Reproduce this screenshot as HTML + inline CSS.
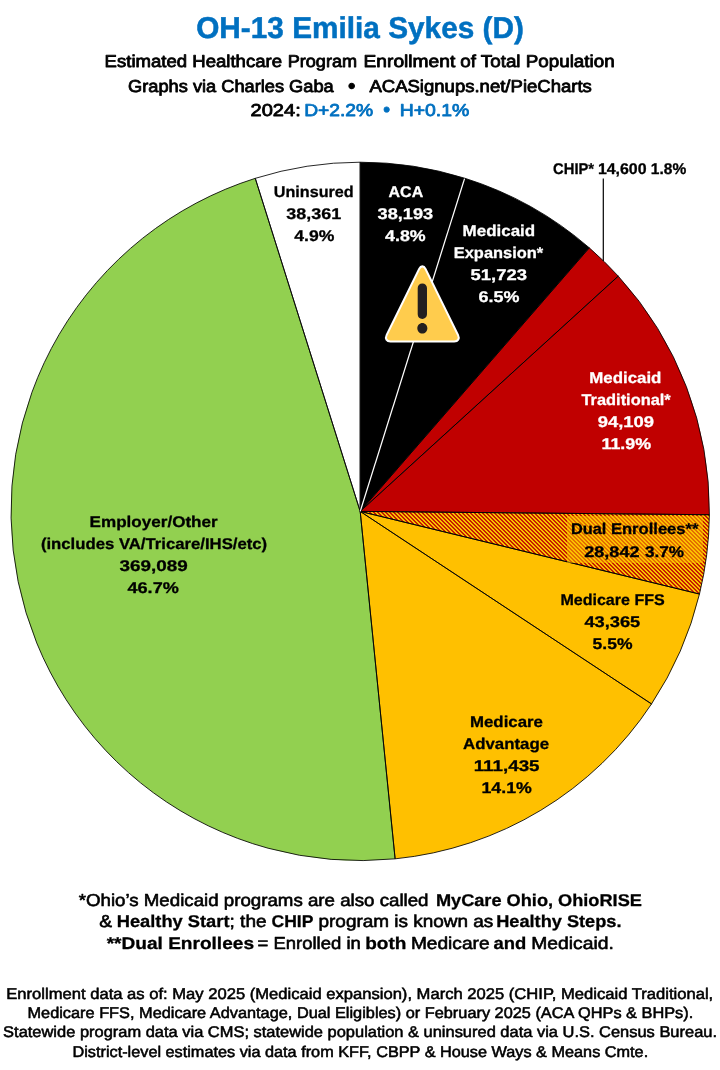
<!DOCTYPE html>
<html lang="en">
<head>
<meta charset="utf-8">
<title>OH-13 Emilia Sykes (D) - Healthcare Program Enrollment</title>
<style>
html,body{margin:0;padding:0;background:#fff;}
body{width:720px;height:1070px;overflow:hidden;}
svg{display:block;will-change:transform;font-family:'Liberation Sans', Arial, Helvetica, sans-serif;}
text{white-space:pre;text-rendering:geometricPrecision;}
</style>
</head>
<body>
<svg width="720" height="1070" viewBox="0 0 720 1070">
<rect x="0" y="0" width="720" height="1070" fill="#FFFFFF"/>

<g id="header">
<text x="196.2" y="37.8" font-size="30" font-weight="bold" fill="#0070C0" stroke="#0070C0" stroke-width="0.5" stroke-linejoin="round" textLength="327.7" lengthAdjust="spacingAndGlyphs">OH-13 Emilia Sykes (D)</text>
<text x="104.6" y="67.0" font-size="17.2" font-weight="normal" fill="#000" stroke="#000" stroke-width="0.8" stroke-linejoin="round" textLength="177.4" lengthAdjust="spacingAndGlyphs">Estimated Healthcare</text>
<text x="287.7" y="67.0" font-size="17.2" font-weight="normal" fill="#000" stroke="#000" stroke-width="0.8" stroke-linejoin="round" textLength="69.4" lengthAdjust="spacingAndGlyphs">Program</text>
<text x="363.5" y="67.0" font-size="17.2" font-weight="normal" fill="#000" stroke="#000" stroke-width="0.8" stroke-linejoin="round" textLength="91.8" lengthAdjust="spacingAndGlyphs">Enrollment</text>
<text x="460.3" y="67.0" font-size="17.2" font-weight="normal" fill="#000" stroke="#000" stroke-width="0.8" stroke-linejoin="round" textLength="154.3" lengthAdjust="spacingAndGlyphs">of Total Population</text>
<text x="128.1" y="91.7" font-size="17.2" font-weight="normal" fill="#000" stroke="#000" stroke-width="0.8" stroke-linejoin="round" textLength="205.6" lengthAdjust="spacingAndGlyphs">Graphs via Charles Gaba</text>
<text x="351.7" y="93.2" font-size="21" font-weight="normal" fill="#000" stroke="#000" stroke-width="0.9" stroke-linejoin="round" text-anchor="middle">•</text>
<text x="369.4" y="91.7" font-size="17.2" font-weight="normal" fill="#000" stroke="#000" stroke-width="0.8" stroke-linejoin="round" textLength="222.5" lengthAdjust="spacingAndGlyphs">ACASignups.net/PieCharts</text>
<text x="250.6" y="115.8" font-size="17.2" font-weight="normal" fill="#000" stroke="#000" stroke-width="0.8" stroke-linejoin="round" textLength="50.1" lengthAdjust="spacingAndGlyphs">2024:</text>
<text x="304.2" y="115.8" font-size="17.2" font-weight="normal" fill="#0070C0" stroke="#0070C0" stroke-width="0.8" stroke-linejoin="round" textLength="69.0" lengthAdjust="spacingAndGlyphs">D+2.2%</text>
<text x="386.7" y="116.2" font-size="19.5" font-weight="normal" fill="#0070C0" stroke="#0070C0" stroke-width="0.8" stroke-linejoin="round" text-anchor="middle">•</text>
<text x="399.7" y="115.8" font-size="17.2" font-weight="normal" fill="#0070C0" stroke="#0070C0" stroke-width="0.8" stroke-linejoin="round" textLength="69.6" lengthAdjust="spacingAndGlyphs">H+0.1%</text>
</g>
<g id="pie-fills">
<path d="M360.20 511.40L360.20 162.20A349.20 349.20 0 0 1 464.69 178.20Z" fill="#000000"/>
<path d="M360.20 511.40L464.69 178.20A349.20 349.20 0 0 1 589.25 247.81Z" fill="#000000"/>
<path d="M360.20 511.40L589.25 247.81A349.20 349.20 0 0 1 618.25 276.13Z" fill="#C00000"/>
<path d="M360.20 511.40L618.25 276.13A349.20 349.20 0 0 1 709.38 514.72Z" fill="#C00000"/>
<path d="M360.20 511.40L709.38 514.72A349.20 349.20 0 0 1 699.48 594.06Z" fill="#FFDC00"/>
<path d="M360.20 511.40L699.48 594.06A349.20 349.20 0 0 1 651.52 703.94Z" fill="#FFC000"/>
<path d="M360.20 511.40L651.52 703.94A349.20 349.20 0 0 1 395.12 858.85Z" fill="#FFC000"/>
<path d="M360.20 511.40L395.12 858.85A349.20 349.20 0 0 1 255.27 178.34Z" fill="#92D050"/>
<path d="M360.20 511.40L255.27 178.34A349.20 349.20 0 0 1 360.20 162.20Z" fill="#FFFFFF"/>
</g>
<clipPath id="dualclip"><path d="M360.20 511.40L709.38 514.72A349.20 349.20 0 0 1 699.48 594.06Z"/></clipPath>
<path clip-path="url(#dualclip)" d="M266.5 505L361.5 600M270.5 505L365.5 600M274.5 505L369.5 600M278.5 505L373.5 600M282.5 505L377.5 600M286.5 505L381.5 600M290.5 505L385.5 600M294.5 505L389.5 600M298.5 505L393.5 600M302.5 505L397.5 600M306.5 505L401.5 600M310.5 505L405.5 600M314.5 505L409.5 600M318.5 505L413.5 600M322.5 505L417.5 600M326.5 505L421.5 600M330.5 505L425.5 600M334.5 505L429.5 600M338.5 505L433.5 600M342.5 505L437.5 600M346.5 505L441.5 600M350.5 505L445.5 600M354.5 505L449.5 600M358.5 505L453.5 600M362.5 505L457.5 600M366.5 505L461.5 600M370.5 505L465.5 600M374.5 505L469.5 600M378.5 505L473.5 600M382.5 505L477.5 600M386.5 505L481.5 600M390.5 505L485.5 600M394.5 505L489.5 600M398.5 505L493.5 600M402.5 505L497.5 600M406.5 505L501.5 600M410.5 505L505.5 600M414.5 505L509.5 600M418.5 505L513.5 600M422.5 505L517.5 600M426.5 505L521.5 600M430.5 505L525.5 600M434.5 505L529.5 600M438.5 505L533.5 600M442.5 505L537.5 600M446.5 505L541.5 600M450.5 505L545.5 600M454.5 505L549.5 600M458.5 505L553.5 600M462.5 505L557.5 600M466.5 505L561.5 600M470.5 505L565.5 600M474.5 505L569.5 600M478.5 505L573.5 600M482.5 505L577.5 600M486.5 505L581.5 600M490.5 505L585.5 600M494.5 505L589.5 600M498.5 505L593.5 600M502.5 505L597.5 600M506.5 505L601.5 600M510.5 505L605.5 600M514.5 505L609.5 600M518.5 505L613.5 600M522.5 505L617.5 600M526.5 505L621.5 600M530.5 505L625.5 600M534.5 505L629.5 600M538.5 505L633.5 600M542.5 505L637.5 600M546.5 505L641.5 600M550.5 505L645.5 600M554.5 505L649.5 600M558.5 505L653.5 600M562.5 505L657.5 600M566.5 505L661.5 600M570.5 505L665.5 600M574.5 505L669.5 600M578.5 505L673.5 600M582.5 505L677.5 600M586.5 505L681.5 600M590.5 505L685.5 600M594.5 505L689.5 600M598.5 505L693.5 600M602.5 505L697.5 600M606.5 505L701.5 600M610.5 505L705.5 600M614.5 505L709.5 600M618.5 505L713.5 600M622.5 505L717.5 600M626.5 505L721.5 600M630.5 505L725.5 600M634.5 505L729.5 600M638.5 505L733.5 600M642.5 505L737.5 600M646.5 505L741.5 600M650.5 505L745.5 600M654.5 505L749.5 600M658.5 505L753.5 600M662.5 505L757.5 600M666.5 505L761.5 600M670.5 505L765.5 600M674.5 505L769.5 600M678.5 505L773.5 600M682.5 505L777.5 600M686.5 505L781.5 600M690.5 505L785.5 600M694.5 505L789.5 600M698.5 505L793.5 600M702.5 505L797.5 600M706.5 505L801.5 600" stroke="#C00000" stroke-width="1.414" fill="none"/>
<g id="pie-lines" fill="none" stroke="#000" stroke-width="0.85" stroke-linejoin="round">
<path d="M360.20 511.40L360.20 162.20A349.20 349.20 0 0 1 464.69 178.20Z"/>
<path d="M360.20 511.40L464.69 178.20A349.20 349.20 0 0 1 589.25 247.81Z"/>
<path d="M360.20 511.40L589.25 247.81A349.20 349.20 0 0 1 618.25 276.13Z"/>
<path d="M360.20 511.40L618.25 276.13A349.20 349.20 0 0 1 709.38 514.72Z"/>
<path d="M360.20 511.40L709.38 514.72A349.20 349.20 0 0 1 699.48 594.06Z"/>
<path d="M360.20 511.40L699.48 594.06A349.20 349.20 0 0 1 651.52 703.94Z"/>
<path d="M360.20 511.40L651.52 703.94A349.20 349.20 0 0 1 395.12 858.85Z"/>
<path d="M360.20 511.40L395.12 858.85A349.20 349.20 0 0 1 255.27 178.34Z"/>
<path d="M360.20 511.40L255.27 178.34A349.20 349.20 0 0 1 360.20 162.20Z"/>
</g>
<line x1="360.2" y1="511.4" x2="464.54" y2="178.68" stroke="#fff" stroke-width="1.25"/>
<rect x="567" y="516" width="136" height="47" fill="#FFC000" fill-opacity="0.5"/>
<line x1="603.3" y1="178.5" x2="603.3" y2="261" stroke="#000" stroke-width="1.2"/>
<g id="warn" transform="translate(384.9 264.7) scale(2.08 2.195)">
<path fill="#FFCC4D" stroke="#fff" stroke-width="0.95" stroke-linejoin="round" d="M2.653 35C.811 35-.001 33.662.847 32.027L16.456 1.972c.849-1.635 2.238-1.635 3.087 0l15.609 30.056c.85 1.634.037 2.972-1.805 2.972H2.653z"/>
<path fill="#231F20" d="M15.583 28.953c0-1.333 1.085-2.418 2.419-2.418 1.333 0 2.418 1.085 2.418 2.418 0 1.334-1.086 2.419-2.418 2.419-1.334 0-2.419-1.085-2.419-2.419zm.186-18.293c0-1.302.961-2.108 2.232-2.108 1.241 0 2.233.837 2.233 2.108v11.938c0 1.271-.992 2.108-2.233 2.108-1.271 0-2.232-.807-2.232-2.108V10.660z"/>
</g>
<g id="labels">
<text x="273.8" y="197.1" font-size="15.5" font-weight="bold" fill="#000" stroke="#000" stroke-width="0.3" stroke-linejoin="round" textLength="79.9" lengthAdjust="spacingAndGlyphs">Uninsured</text>
<text x="286.3" y="218.6" font-size="15.5" font-weight="bold" fill="#000" stroke="#000" stroke-width="0.3" stroke-linejoin="round" textLength="54.9" lengthAdjust="spacingAndGlyphs">38,361</text>
<text x="294.3" y="240.8" font-size="15.5" font-weight="bold" fill="#000" stroke="#000" stroke-width="0.3" stroke-linejoin="round" textLength="40.1" lengthAdjust="spacingAndGlyphs">4.9%</text>
<text x="388.6" y="197.1" font-size="15.5" font-weight="bold" fill="#fff" stroke="#fff" stroke-width="0.3" stroke-linejoin="round" textLength="34.6" lengthAdjust="spacingAndGlyphs">ACA</text>
<text x="377.6" y="218.6" font-size="15.5" font-weight="bold" fill="#fff" stroke="#fff" stroke-width="0.3" stroke-linejoin="round" textLength="55.6" lengthAdjust="spacingAndGlyphs">38,193</text>
<text x="385.1" y="240.8" font-size="15.5" font-weight="bold" fill="#fff" stroke="#fff" stroke-width="0.3" stroke-linejoin="round" textLength="40.6" lengthAdjust="spacingAndGlyphs">4.8%</text>
<text x="462.6" y="235.8" font-size="15.5" font-weight="bold" fill="#fff" stroke="#fff" stroke-width="0.3" stroke-linejoin="round" textLength="72.6" lengthAdjust="spacingAndGlyphs">Medicaid</text>
<text x="453.8" y="257.8" font-size="15.5" font-weight="bold" fill="#fff" stroke="#fff" stroke-width="0.3" stroke-linejoin="round" textLength="89.4" lengthAdjust="spacingAndGlyphs">Expansion*</text>
<text x="470.6" y="279.8" font-size="15.5" font-weight="bold" fill="#fff" stroke="#fff" stroke-width="0.3" stroke-linejoin="round" textLength="56.4" lengthAdjust="spacingAndGlyphs">51,723</text>
<text x="478.6" y="301.6" font-size="15.5" font-weight="bold" fill="#fff" stroke="#fff" stroke-width="0.3" stroke-linejoin="round" textLength="40.9" lengthAdjust="spacingAndGlyphs">6.5%</text>
<text x="553.1" y="173.6" font-size="15.5" font-weight="bold" fill="#000" stroke="#000" stroke-width="0.3" stroke-linejoin="round" textLength="41.0" lengthAdjust="spacingAndGlyphs">CHIP*</text>
<text x="597.9" y="173.6" font-size="15.5" font-weight="bold" fill="#000" stroke="#000" stroke-width="0.3" stroke-linejoin="round" textLength="48.7" lengthAdjust="spacingAndGlyphs">14,600</text>
<text x="650.8" y="173.6" font-size="15.5" font-weight="bold" fill="#000" stroke="#000" stroke-width="0.3" stroke-linejoin="round" textLength="35.4" lengthAdjust="spacingAndGlyphs">1.8%</text>
<text x="589.3" y="383.0" font-size="15.5" font-weight="bold" fill="#fff" stroke="#fff" stroke-width="0.3" stroke-linejoin="round" textLength="72.1" lengthAdjust="spacingAndGlyphs">Medicaid</text>
<text x="581.5" y="404.7" font-size="15.5" font-weight="bold" fill="#fff" stroke="#fff" stroke-width="0.3" stroke-linejoin="round" textLength="89.2" lengthAdjust="spacingAndGlyphs">Traditional*</text>
<text x="597.7" y="427.0" font-size="15.5" font-weight="bold" fill="#fff" stroke="#fff" stroke-width="0.3" stroke-linejoin="round" textLength="56.3" lengthAdjust="spacingAndGlyphs">94,109</text>
<text x="601.5" y="448.7" font-size="15.5" font-weight="bold" fill="#fff" stroke="#fff" stroke-width="0.3" stroke-linejoin="round" textLength="49.6" lengthAdjust="spacingAndGlyphs">11.9%</text>
<text x="570.9" y="534.3" font-size="15.5" font-weight="bold" fill="#000" stroke="#000" stroke-width="0.3" stroke-linejoin="round" textLength="35.4" lengthAdjust="spacingAndGlyphs">Dual</text>
<text x="610.9" y="534.3" font-size="15.5" font-weight="bold" fill="#000" stroke="#000" stroke-width="0.3" stroke-linejoin="round" textLength="87.6" lengthAdjust="spacingAndGlyphs">Enrollees**</text>
<text x="584.2" y="556.5" font-size="15.5" font-weight="bold" fill="#000" stroke="#000" stroke-width="0.3" stroke-linejoin="round" textLength="55.4" lengthAdjust="spacingAndGlyphs">28,842</text>
<text x="644.9" y="556.5" font-size="15.5" font-weight="bold" fill="#000" stroke="#000" stroke-width="0.3" stroke-linejoin="round" textLength="39.1" lengthAdjust="spacingAndGlyphs">3.7%</text>
<text x="560.4" y="604.7" font-size="15.5" font-weight="bold" fill="#000" stroke="#000" stroke-width="0.3" stroke-linejoin="round" textLength="104.3" lengthAdjust="spacingAndGlyphs">Medicare FFS</text>
<text x="584.4" y="626.5" font-size="15.5" font-weight="bold" fill="#000" stroke="#000" stroke-width="0.3" stroke-linejoin="round" textLength="55.9" lengthAdjust="spacingAndGlyphs">43,365</text>
<text x="592.6" y="648.7" font-size="15.5" font-weight="bold" fill="#000" stroke="#000" stroke-width="0.3" stroke-linejoin="round" textLength="39.9" lengthAdjust="spacingAndGlyphs">5.5%</text>
<text x="470.0" y="727.0" font-size="15.5" font-weight="bold" fill="#000" stroke="#000" stroke-width="0.3" stroke-linejoin="round" textLength="72.9" lengthAdjust="spacingAndGlyphs">Medicare</text>
<text x="463.1" y="748.7" font-size="15.5" font-weight="bold" fill="#000" stroke="#000" stroke-width="0.3" stroke-linejoin="round" textLength="86.0" lengthAdjust="spacingAndGlyphs">Advantage</text>
<text x="473.7" y="771.0" font-size="15.5" font-weight="bold" fill="#000" stroke="#000" stroke-width="0.3" stroke-linejoin="round" textLength="65.9" lengthAdjust="spacingAndGlyphs">111,435</text>
<text x="481.5" y="792.5" font-size="15.5" font-weight="bold" fill="#000" stroke="#000" stroke-width="0.3" stroke-linejoin="round" textLength="50.3" lengthAdjust="spacingAndGlyphs">14.1%</text>
<text x="89.6" y="527.4" font-size="15.5" font-weight="bold" fill="#000" stroke="#000" stroke-width="0.3" stroke-linejoin="round" textLength="128.1" lengthAdjust="spacingAndGlyphs">Employer/Other</text>
<text x="40.9" y="549.1" font-size="15.5" font-weight="bold" fill="#000" stroke="#000" stroke-width="0.3" stroke-linejoin="round" textLength="226.3" lengthAdjust="spacingAndGlyphs">(includes VA/Tricare/IHS/etc)</text>
<text x="119.6" y="571.4" font-size="15.5" font-weight="bold" fill="#000" stroke="#000" stroke-width="0.3" stroke-linejoin="round" textLength="68.2" lengthAdjust="spacingAndGlyphs">369,089</text>
<text x="127.5" y="593.1" font-size="15.5" font-weight="bold" fill="#000" stroke="#000" stroke-width="0.3" stroke-linejoin="round" textLength="51.3" lengthAdjust="spacingAndGlyphs">46.7%</text>
</g>
<g id="notes">
<text x="78.7" y="906.3" font-size="17.3" font-weight="normal" fill="#000" stroke="#000" stroke-width="0.6" stroke-linejoin="round" textLength="349.8" lengthAdjust="spacingAndGlyphs">*Ohio’s Medicaid programs are also called</text>
<text x="435.9" y="906.3" font-size="17" font-weight="bold" fill="#000" stroke="#000" stroke-width="0.3" stroke-linejoin="round" textLength="206.0" lengthAdjust="spacingAndGlyphs">MyCare Ohio, OhioRISE</text>
<text x="99.2" y="927.4" font-size="17.3" font-weight="normal" fill="#000" stroke="#000" stroke-width="0.6" stroke-linejoin="round" textLength="12.8" lengthAdjust="spacingAndGlyphs">&amp;</text>
<text x="116.7" y="927.4" font-size="17" font-weight="bold" fill="#000" stroke="#000" stroke-width="0.3" stroke-linejoin="round" textLength="112.8" lengthAdjust="spacingAndGlyphs">Healthy Start</text>
<text x="229.5" y="927.4" font-size="17.3" font-weight="normal" fill="#000" stroke="#000" stroke-width="0.6" stroke-linejoin="round" textLength="37.1" lengthAdjust="spacingAndGlyphs">; the</text>
<text x="271.5" y="927.4" font-size="17" font-weight="bold" fill="#000" stroke="#000" stroke-width="0.3" stroke-linejoin="round" textLength="41.9" lengthAdjust="spacingAndGlyphs">CHIP</text>
<text x="318.5" y="927.4" font-size="17.3" font-weight="normal" fill="#000" stroke="#000" stroke-width="0.6" stroke-linejoin="round" textLength="174.8" lengthAdjust="spacingAndGlyphs">program is known as</text>
<text x="496.2" y="927.4" font-size="17" font-weight="bold" fill="#000" stroke="#000" stroke-width="0.3" stroke-linejoin="round" textLength="125.3" lengthAdjust="spacingAndGlyphs">Healthy Steps.</text>
<text x="106.7" y="948.8" font-size="17" font-weight="bold" fill="#000" stroke="#000" stroke-width="0.3" stroke-linejoin="round" textLength="147.3" lengthAdjust="spacingAndGlyphs">**Dual Enrollees</text>
<text x="257.5" y="948.8" font-size="17.3" font-weight="normal" fill="#000" stroke="#000" stroke-width="0.6" stroke-linejoin="round" textLength="103.3" lengthAdjust="spacingAndGlyphs">= Enrolled in</text>
<text x="365.2" y="948.8" font-size="17" font-weight="bold" fill="#000" stroke="#000" stroke-width="0.3" stroke-linejoin="round" textLength="41.2" lengthAdjust="spacingAndGlyphs">both</text>
<text x="410.9" y="948.8" font-size="17.3" font-weight="normal" fill="#000" stroke="#000" stroke-width="0.6" stroke-linejoin="round" textLength="78.7" lengthAdjust="spacingAndGlyphs">Medicare</text>
<text x="493.4" y="948.8" font-size="17" font-weight="bold" fill="#000" stroke="#000" stroke-width="0.3" stroke-linejoin="round" textLength="32.8" lengthAdjust="spacingAndGlyphs">and</text>
<text x="531.2" y="948.8" font-size="17.3" font-weight="normal" fill="#000" stroke="#000" stroke-width="0.6" stroke-linejoin="round" textLength="82.6" lengthAdjust="spacingAndGlyphs">Medicaid.</text>
<text x="6.3" y="998.8" font-size="15.5" font-weight="normal" fill="#000" stroke="#000" stroke-width="0.55" stroke-linejoin="round" textLength="706.9" lengthAdjust="spacingAndGlyphs">Enrollment data as of: May 2025 (Medicaid expansion), March 2025 (CHIP, Medicaid Traditional,</text>
<text x="27.5" y="1018.1" font-size="15.5" font-weight="normal" fill="#000" stroke="#000" stroke-width="0.55" stroke-linejoin="round" textLength="665.7" lengthAdjust="spacingAndGlyphs">Medicare FFS, Medicare Advantage, Dual Eligibles) or February 2025 (ACA QHPs &amp; BHPs).</text>
<text x="3.1" y="1037.4" font-size="15.5" font-weight="normal" fill="#000" stroke="#000" stroke-width="0.55" stroke-linejoin="round" textLength="713.9" lengthAdjust="spacingAndGlyphs">Statewide program data via CMS; statewide population &amp; uninsured data via U.S. Census Bureau.</text>
<text x="72.5" y="1056.7" font-size="15.5" font-weight="normal" fill="#000" stroke="#000" stroke-width="0.55" stroke-linejoin="round" textLength="575.7" lengthAdjust="spacingAndGlyphs">District-level estimates via data from KFF, CBPP &amp; House Ways &amp; Means Cmte.</text>
</g>
</svg>
</body>
</html>
